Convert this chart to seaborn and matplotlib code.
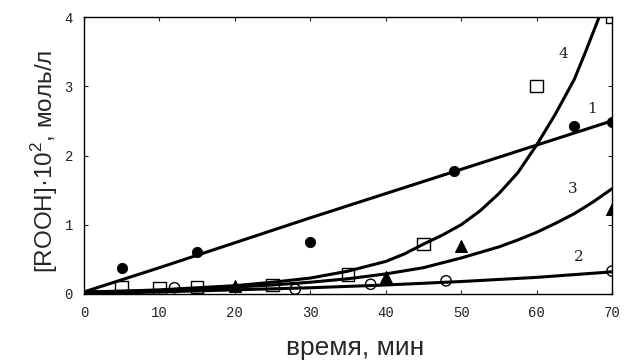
import matplotlib
matplotlib.use("Agg")
import matplotlib.pyplot as plt
import seaborn as sns

# Experimental points
t1 = [5, 15, 30, 49, 65, 70]
y1 = [0.37, 0.60, 0.75, 1.78, 2.42, 2.48]
t2 = [12, 28, 38, 48, 70]
y2 = [0.09, 0.07, 0.14, 0.19, 0.33]
t3 = [20, 40, 50, 70]
y3 = [0.12, 0.25, 0.70, 1.23]
t4 = [5, 10, 15, 25, 35, 45, 60, 70]
y4 = [0.10, 0.09, 0.10, 0.13, 0.28, 0.72, 3.0, 4.0]

# Fitted curves
c1_t = [0, 10, 20, 30, 40, 50, 60, 70]
c1_y = [0.03, 0.38, 0.74, 1.10, 1.45, 1.80, 2.15, 2.50]
c2_t = [0, 10, 20, 30, 40, 50, 60, 70]
c2_y = [0.0, 0.03, 0.06, 0.09, 0.13, 0.18, 0.24, 0.32]
c3_t = [0, 5, 10, 15, 20, 25, 30, 35, 40, 45, 50, 52.5, 55, 57.5, 60, 62.5, 65, 67.5, 70]
c3_y = [0.03, 0.04, 0.05, 0.07, 0.10, 0.13, 0.17, 0.22, 0.29, 0.38, 0.52, 0.60, 0.68, 0.78, 0.89, 1.02, 1.16, 1.33, 1.52]
c4_t = [0, 5, 10, 15, 20, 25, 30, 35, 40, 42.5, 45, 47.5, 50, 52.5, 55, 57.5, 60, 62.5, 65, 66.5, 68.3]
c4_y = [0.03, 0.04, 0.06, 0.09, 0.12, 0.17, 0.23, 0.33, 0.47, 0.58, 0.72, 0.85, 1.0, 1.2, 1.45, 1.75, 2.15, 2.6, 3.1, 3.5, 4.0]

curve_labels = ["1", "2", "3", "4"]
label_pos = [(67.4, 2.67), (65.6, 0.53), (64.8, 1.52), (63.6, 3.46)]

sns.set_style("ticks")
plt.rcParams["mathtext.fontset"] = "custom"
plt.rcParams["mathtext.rm"] = "Liberation Sans"
mono = "Liberation Mono"
sans = "Liberation Sans"

fig = plt.figure(figsize=(6.24, 3.61), dpi=100)
ax = fig.add_axes([0.1346, 0.1856, 0.8462, 0.7673])

# curves
for ct, cy in [(c1_t, c1_y), (c2_t, c2_y), (c3_t, c3_y), (c4_t, c4_y)]:
    sns.lineplot(x=ct, y=cy, ax=ax, color="black", lw=2.2, sort=False, estimator=None)

# markers
sns.scatterplot(x=t1, y=y1, ax=ax, marker="o", s=55, color="black", edgecolor="black", zorder=5)
sns.scatterplot(x=t2, y=y2, ax=ax, marker="o", s=55, facecolor="none", edgecolor="black", linewidth=1, zorder=5)
sns.scatterplot(x=t3, y=y3, ax=ax, marker="^", s=75, color="black", edgecolor="black", zorder=5)
sns.scatterplot(x=t4, y=y4, ax=ax, marker="s", s=80, facecolor="none", edgecolor="black", linewidth=1, zorder=5)

for lab, (lx, ly) in zip(curve_labels, label_pos):
    ax.text(lx, ly, lab, family="DejaVu Serif", fontsize=11, ha="center", va="center", color="#222222")

ax.set_xlim(0, 70)
ax.set_ylim(0, 4)
ax.set_xticks(range(0, 71, 10))
ax.set_yticks(range(0, 5))
ax.tick_params(direction="in", top=True, right=True, length=3, width=0.8, labelsize=10)
ax.tick_params(axis="x", pad=9)
ax.tick_params(axis="y", pad=8)
for lbl in ax.get_xticklabels() + ax.get_yticklabels():
    lbl.set_family(mono)
    lbl.set_color("#222222")
for sp in ax.spines.values():
    sp.set_linewidth(1.0)
    sp.set_color("black")

ax.set_xlabel("время, мин", family=sans, fontsize=19)
ax.xaxis.set_label_coords(0.513, -0.15)
ax.set_ylabel("[ROOH]·10$^2$, моль/л", family=sans, fontsize=17.5)
ax.yaxis.set_label_coords(-0.045, 0.478)

fig.savefig("out.png", dpi=100)
